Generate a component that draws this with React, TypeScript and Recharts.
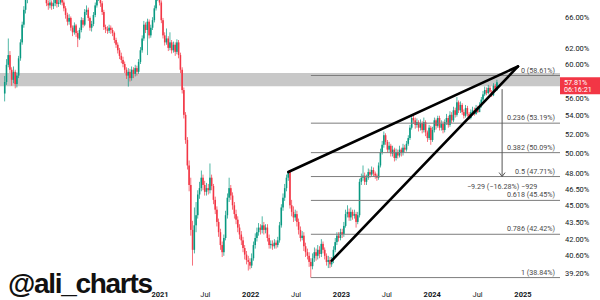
import {
  Bar,
  ComposedChart,
  ReferenceArea,
  ReferenceDot,
  ReferenceLine,
  XAxis,
  YAxis,
} from "recharts";

// weekly candles, first one in mid April 2019 (decimal years)
const firstWeek = 2019.29;
const weekStep = 7 / 365.25;
const firstOpen = 56.5;

const closes = [
  57.84, 59.9, 61.1, 59.3, 58.1, 59.05, 57.6, 58.6, 60.7, 62.7,
  65.0, 67.0, 68.4, 69.5, 71.2, 72.7, 71.9, 73.4, 72.4, 74.2,
  72.7, 71.2, 70.1, 69.1, 67.9, 67.6, 68.0, 67.5, 67.9, 68.4,
  67.8, 68.0, 68.8, 68.0, 67.2, 66.3, 65.4, 65.9, 64.6, 64.0,
  64.9, 63.9, 63.2, 64.3, 65.6, 65.0, 66.7, 67.0, 65.9, 64.6,
  65.1, 66.3, 67.6, 68.6, 69.1, 67.9, 66.7, 64.7, 64.4, 64.2,
  64.6, 64.3, 63.9, 63.0, 62.4, 61.7, 61.0, 60.5, 60.0, 59.3,
  58.6, 59.05, 58.3, 59.3, 58.8, 59.5, 59.05, 60.25, 61.7, 63.2,
  65.0, 64.3, 65.4, 63.6, 64.6, 65.6, 67.2, 68.6, 69.5, 68.0,
  65.6, 63.6, 62.7, 63.2, 62.0, 62.7, 61.7, 62.4, 61.5, 62.7,
  61.1, 59.3, 56.9, 54.1, 51.4, 48.8, 46.9, 42.8, 41.1, 43.2,
  44.1, 46.0, 46.6, 47.6, 46.9, 46.25, 46.6, 46.4, 47.6, 46.8,
  45.5, 44.6, 43.5, 42.6, 41.5, 40.9, 42.1, 44.1, 45.7, 46.6,
  45.9, 45.0, 44.2, 43.7, 43.0, 42.4, 41.9, 41.25, 40.7, 40.25,
  40.1, 39.8, 40.4, 41.5, 42.1, 42.6, 43.0, 42.8, 43.2, 42.8,
  43.0, 42.1, 41.5, 41.6, 41.4, 41.7, 41.5, 41.9, 43.2, 44.8,
  45.7, 46.6, 47.6, 48.15, 45.0, 44.4, 43.9, 44.2, 43.5, 42.8,
  42.1, 42.3, 41.4, 40.9, 40.6, 40.1, 39.75, 40.4, 40.9, 40.6,
  41.1, 40.75, 41.6, 41.1, 40.6, 40.1, 40.25, 39.9, 40.25, 41.1,
  41.75, 42.3, 42.1, 42.6, 42.45, 43.15, 44.2, 44.4, 43.9, 44.4,
  44.05, 44.2, 43.5, 44.1, 47.2, 47.6, 47.8, 47.2, 47.6, 48.15,
  47.9, 48.35, 48.0, 47.8, 47.6, 48.8, 50.15, 50.9, 51.9, 51.2,
  50.4, 50.8, 50.0, 50.4, 49.55, 50.15, 49.8, 50.4, 50.05, 50.6,
  50.4, 51.0, 51.6, 52.7, 53.75, 53.5, 53.0, 53.3, 52.7, 53.2,
  52.45, 53.3, 52.2, 51.6, 52.7, 51.4, 52.45, 53.5, 52.9, 53.75,
  52.7, 53.1, 52.45, 53.3, 53.75, 53.0, 54.1, 53.5, 54.6, 54.1,
  55.5, 54.6, 55.2, 54.4, 54.0, 54.85, 54.2, 53.75, 54.4, 54.6,
  54.2, 54.85, 54.4, 55.1, 55.8, 56.4, 56.9, 56.55, 57.15, 56.7,
  56.3, 57.4, 56.9, 57.81,
];

const highs = [
  58.55, 60.6, 63.2, 61.6, 59.6, 59.7, 59.3, 59.0, 61.0, 63.1,
  65.4, 67.5, 69.0, 70.1, 71.6, 73.3, 73.2, 73.9, 73.8, 74.6,
  74.5, 73.0, 71.6, 70.4, 69.4, 68.3, 68.5, 68.3, 68.4, 68.8,
  68.7, 68.5, 69.3, 69.1, 68.3, 67.5, 66.6, 66.4, 66.1, 64.9,
  65.3, 65.1, 64.2, 64.6, 66.0, 65.9, 67.1, 67.6, 67.3, 66.1,
  65.5, 66.7, 68.0, 69.1, 69.8, 69.4, 68.2, 67.0, 65.0, 64.8,
  65.0, 64.9, 64.6, 64.1, 63.3, 62.7, 62.0, 61.4, 60.9, 60.3,
  59.6, 59.5, 59.4, 59.7, 59.6, 59.9, 59.8, 60.6, 62.1, 63.6,
  65.5, 65.3, 65.8, 65.7, 65.0, 66.0, 67.6, 69.1, 70.2, 69.9,
  68.3, 65.9, 64.0, 64.5, 63.5, 64.0, 63.0, 62.8, 62.7, 63.1,
  63.0, 61.4, 59.6, 57.2, 54.4, 51.7, 49.3, 47.6, 43.6, 44.8,
  45.3, 46.4, 47.2, 48.3, 47.9, 47.3, 47.1, 47.0, 49.0, 47.9,
  47.0, 45.8, 44.9, 43.8, 42.9, 41.8, 42.4, 44.5, 46.1, 47.6,
  46.9, 46.2, 45.3, 44.6, 44.0, 43.3, 42.7, 42.2, 41.5, 41.0,
  40.6, 40.4, 40.8, 41.8, 42.5, 43.0, 43.4, 43.3, 44.0, 43.5,
  43.3, 43.3, 42.4, 41.9, 41.9, 42.0, 41.9, 42.2, 43.5, 45.1,
  46.1, 47.0, 47.9, 48.2, 48.15, 45.5, 44.9, 44.6, 44.5, 43.8,
  43.1, 42.7, 42.6, 41.7, 41.2, 40.9, 40.4, 40.8, 41.3, 41.2,
  41.5, 41.4, 42.0, 41.8, 41.3, 40.8, 40.6, 40.5, 40.5, 41.4,
  42.1, 42.6, 42.6, 42.9, 42.9, 43.5, 44.6, 45.0, 44.7, 44.8,
  44.6, 44.6, 44.4, 44.4, 47.5, 48.0, 48.8, 48.1, 47.9, 48.5,
  48.4, 48.7, 48.6, 48.2, 48.0, 49.1, 50.5, 51.3, 52.3, 52.1,
  51.4, 51.2, 51.0, 50.8, 50.6, 50.5, 50.4, 50.8, 50.6, 51.0,
  50.9, 51.3, 51.9, 53.0, 54.1, 54.2, 53.8, 53.7, 53.5, 53.6,
  53.4, 53.8, 53.5, 52.4, 53.0, 52.9, 52.8, 53.8, 53.7, 54.0,
  54.0, 53.5, 53.4, 53.6, 54.2, 54.0, 54.5, 54.4, 55.0, 54.9,
  56.1, 55.7, 55.6, 55.4, 54.7, 55.2, 55.1, 54.4, 54.7, 55.0,
  54.9, 55.2, 55.1, 55.5, 56.1, 56.8, 57.3, 57.2, 57.5, 57.4,
  56.9, 57.7, 57.6, 58.1,
];

const lows = [
  55.6, 57.5, 59.6, 58.9, 57.4, 57.7, 57.1, 57.2, 58.3, 60.4,
  62.4, 64.6, 66.5, 67.9, 69.1, 70.8, 71.3, 71.5, 71.9, 72.0,
  72.2, 70.8, 69.6, 68.6, 67.5, 67.0, 67.2, 67.0, 67.1, 67.5,
  67.3, 67.4, 67.7, 67.6, 66.8, 65.8, 64.9, 65.0, 64.2, 63.5,
  63.7, 63.4, 62.1, 63.0, 64.0, 64.6, 64.8, 66.3, 65.5, 64.2,
  64.1, 64.8, 66.0, 67.3, 68.2, 67.4, 66.3, 64.3, 63.9, 63.8,
  63.9, 63.8, 63.5, 62.6, 62.0, 61.3, 60.6, 60.1, 59.6, 58.9,
  58.2, 57.3, 57.9, 58.0, 58.3, 58.5, 58.6, 58.8, 60.0, 61.4,
  62.9, 63.9, 61.1, 63.2, 63.3, 64.3, 65.3, 66.9, 68.2, 67.6,
  65.2, 63.2, 62.3, 62.4, 61.6, 61.7, 61.3, 61.4, 61.0, 61.2,
  60.7, 58.9, 56.5, 53.7, 51.0, 48.4, 46.3, 42.3, 39.8, 40.8,
  42.6, 43.8, 45.6, 46.3, 46.4, 45.9, 45.9, 46.0, 46.1, 46.4,
  45.1, 44.2, 43.1, 42.2, 41.1, 40.5, 40.6, 41.9, 43.8, 45.3,
  45.5, 44.6, 43.8, 43.3, 42.6, 42.0, 41.5, 40.9, 40.3, 39.9,
  39.4, 39.5, 39.6, 40.2, 41.2, 41.8, 42.3, 42.4, 42.5, 42.4,
  42.5, 41.8, 41.2, 41.2, 41.1, 41.2, 41.2, 41.3, 41.7, 43.0,
  44.5, 45.4, 46.3, 47.3, 44.7, 44.0, 43.5, 43.6, 43.1, 42.4,
  41.8, 41.9, 41.0, 40.5, 40.3, 39.7, 38.84, 39.5, 40.1, 40.2,
  40.3, 40.4, 40.5, 40.8, 40.3, 39.8, 39.6, 39.6, 39.7, 40.0,
  40.9, 41.5, 41.8, 41.9, 42.1, 42.2, 43.0, 43.9, 43.6, 43.6,
  43.7, 43.8, 43.0, 43.3, 43.9, 46.9, 47.3, 46.9, 46.9, 47.4,
  47.6, 47.7, 47.7, 47.5, 47.3, 47.4, 48.6, 49.9, 50.6, 50.9,
  50.1, 50.1, 49.7, 49.7, 49.2, 49.3, 49.5, 49.6, 49.7, 49.8,
  50.1, 50.2, 50.8, 51.4, 52.5, 53.1, 52.6, 52.7, 52.3, 52.4,
  52.1, 52.2, 51.8, 51.2, 51.4, 50.9, 51.2, 52.2, 52.5, 52.7,
  52.4, 52.4, 52.1, 52.2, 53.0, 52.7, 52.8, 53.2, 53.3, 53.8,
  53.9, 54.3, 54.3, 54.1, 53.7, 53.8, 53.9, 53.55, 53.6, 54.2,
  54.0, 54.1, 54.3, 54.4, 54.9, 55.6, 56.2, 56.3, 56.4, 56.5,
  56.1, 56.2, 56.7, 56.8,
];

const timeTicks = [2021, 2021.5, 2022, 2022.5, 2023, 2023.5, 2024, 2024.5, 2025];
const priceTicks = [39.2, 40.6, 42, 43.5, 45, 46.5, 48, 50, 52, 54, 56, 60, 62, 66];

const fibRatios = ["0", "0.236", "0.382", "0.5", "0.618", "0.786", "1"];
const fibValues = [58.61, 53.19, 50.09, 47.71, 45.45, 42.42, 38.84];
const fibStart = 2022.663;

const wedgeUpper = [
  { x: 2022.414, y: 48.15 },
  { x: 2024.945, y: 59.7 },
];
const wedgeLower = [
  { x: 2022.893, y: 40.21 },
  { x: 2024.945, y: 59.7 },
];

const zoneLow = 57.35;
const zoneHigh = 58.9;

const measureTime = 2024.77;
const measureFrom = 57.0;
const measureTo = 47.71;
const measureText = "\u22129.29 (\u221216.28%) \u2212929";

const lastPrice = 57.81;
const lastTimer = "06:16:21";

const timeDomain = [2019.237, 2025.408];
const priceDomain = [38.18, 68.35];

const UP = "#089981";
const DOWN = "#f23645";
const FONT = "Roboto, 'Liberation Sans', sans-serif";

const candles = closes.map((close, i) => ({
  t: firstWeek + i * weekStep,
  open: i === 0 ? firstOpen : closes[i - 1],
  close,
  high: highs[i],
  low: lows[i],
}));

function Candle(props: any) {
  const { x, y, width, height, payload } = props;
  if (!payload || !(height > 0)) return null;
  const { open, close, high, low } = payload;
  const span = Math.log(high / low);
  const toY = (v: number) => y + (height * Math.log(high / v)) / span;
  const top = toY(Math.max(open, close));
  const bottom = toY(Math.min(open, close));
  const color = close >= open ? UP : DOWN;
  const cx = x + width / 2;
  return (
    <g>
      <rect x={cx - 0.35} y={y} width={0.7} height={height} fill={color} />
      <rect
        x={x}
        y={top}
        width={width}
        height={Math.max(bottom - top, 0.8)}
        fill={color}
      />
    </g>
  );
}

function FibLabel(props: any) {
  const { viewBox, text } = props;
  if (!viewBox) return null;
  const right = viewBox.x + viewBox.width;
  return (
    <text
      x={right - 5}
      y={viewBox.y - 3}
      textAnchor="end"
      fontSize={7.2}
      fontFamily={FONT}
      fill="#4a4a4a"
    >
      {text}
    </text>
  );
}

function PriceTag(props: any) {
  const { viewBox } = props;
  if (!viewBox) return null;
  const left = viewBox.x + viewBox.width;
  const y = viewBox.y;
  return (
    <g>
      <rect x={left} y={y - 5} width={40} height={17} fill={DOWN} />
      <text x={left + 4} y={y + 2.5} fontSize={7.2} fontFamily={FONT} fill="#fff">
        {lastPrice.toFixed(2)}%
      </text>
      <text x={left + 4} y={y + 10.2} fontSize={7.2} fontFamily={FONT} fill="#fff">
        {lastTimer}
      </text>
    </g>
  );
}

function TimeTick(props: any) {
  const { x, y, payload } = props;
  const v = payload.value;
  const isYear = Math.abs(v - Math.round(v)) < 0.001;
  return (
    <text
      x={x}
      y={y + 11}
      textAnchor="middle"
      fontSize={7.5}
      fontWeight={isYear ? 700 : 400}
      fontFamily={FONT}
      fill="#131722"
    >
      {isYear ? String(Math.round(v)) : "Jul"}
    </text>
  );
}

function ArrowEnd(props: any) {
  const { cx, cy } = props;
  return (
    <g>
      <path
        d={`M${cx - 3},${cy - 4} L${cx},${cy} L${cx + 3},${cy - 4}`}
        stroke="#555"
        strokeWidth={1}
        fill="none"
      />
      <text
        x={cx}
        y={cy + 12.5}
        textAnchor="middle"
        fontSize={7.2}
        fontFamily={FONT}
        fill="#4a4a4a"
      >
        {measureText}
      </text>
    </g>
  );
}

export default function App() {
  return (
    <div style={{ position: "absolute", left: 0, top: 0, width: 600, height: 300, background: "#fff" }}>
      <ComposedChart
        width={600}
        height={300}
        data={candles}
        margin={{ top: 0, right: 0, bottom: 0, left: 0 }}
      >
        <XAxis
          dataKey="t"
          type="number"
          domain={timeDomain}
          allowDataOverflow
          ticks={timeTicks}
          interval={0}
          height={14}
          tickSize={0}
          tickMargin={0}
          axisLine={false}
          tickLine={false}
          tick={<TimeTick />}
        />
        <YAxis
          orientation="right"
          scale="log"
          type="number"
          domain={priceDomain}
          allowDataOverflow
          ticks={priceTicks}
          interval={0}
          width={40}
          tickSize={0}
          tickMargin={5}
          axisLine={false}
          tickLine={false}
          tick={{ fontSize: 7.5, fill: "#131722", fontFamily: FONT }}
          tickFormatter={(v: number) => `${v.toFixed(2)}%`}
        />
        <Bar
          dataKey={(d: any) => [d.low, d.high]}
          barSize={1.6}
          shape={(p: any) => <Candle {...p} />}
          isAnimationActive={false}
        />
        <ReferenceArea
          y1={zoneLow}
          y2={zoneHigh}
          fill="#9a9a9a"
          fillOpacity={0.55}
          stroke="none"
        />
        {fibValues.map((v, i) => (
          <ReferenceLine
            key={fibRatios[i]}
            segment={[
              { x: fibStart, y: v },
              { x: timeDomain[1], y: v },
            ]}
            stroke="#7d7d7d"
            strokeWidth={1}
            ifOverflow="visible"
            label={<FibLabel text={`${fibRatios[i]} (${v.toFixed(2)}%)`} />}
          />
        ))}
        <ReferenceLine
          segment={wedgeUpper}
          stroke="#000"
          strokeWidth={2.6}
          strokeLinecap="round"
          ifOverflow="visible"
        />
        <ReferenceLine
          segment={wedgeLower}
          stroke="#000"
          strokeWidth={2.6}
          strokeLinecap="round"
          ifOverflow="visible"
        />
        <ReferenceLine
          segment={[
            { x: measureTime, y: measureFrom },
            { x: measureTime, y: measureTo },
          ]}
          stroke="#555"
          strokeWidth={1}
          ifOverflow="visible"
        />
        <ReferenceDot
          x={measureTime}
          y={measureTo}
          r={0}
          ifOverflow="visible"
          shape={(p: any) => <ArrowEnd {...p} />}
        />
        <ReferenceLine
          y={lastPrice}
          stroke="none"
          strokeOpacity={0}
          ifOverflow="visible"
          label={<PriceTag />}
        />
      </ComposedChart>
      <svg
        width={600}
        height={300}
        style={{ position: "absolute", left: 0, top: 0, pointerEvents: "none" }}
      >
        <text
          x={8}
          y={293}
          fontSize={28}
          fontWeight={700}
          letterSpacing={-1.3}
          fontFamily="'Liberation Sans', Arial, sans-serif"
          fill="#111"
          stroke="#fff"
          strokeWidth={3}
          paintOrder="stroke"
        >
          @ali_charts
        </text>
      </svg>
    </div>
  );
}
